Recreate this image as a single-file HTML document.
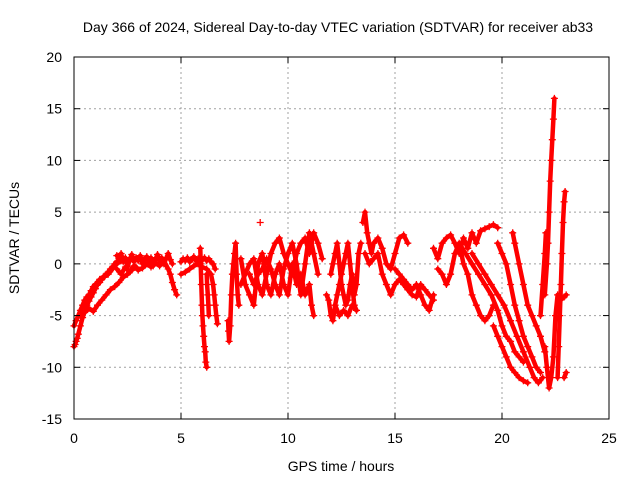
<!DOCTYPE html>
<html><head><meta charset="utf-8"><style>
body{margin:0;background:#fff;}
svg text{font-family:"Liberation Sans",sans-serif;fill:#000;}
</style></head><body>
<svg id="chart" width="640" height="480" viewBox="0 0 640 480" xmlns="http://www.w3.org/2000/svg">
<rect width="640" height="480" fill="#fff"/>
<text x="338" y="32" font-size="14" text-anchor="middle">Day 366 of 2024, Sidereal Day-to-day VTEC variation (SDTVAR) for receiver ab33</text>
<g id="grid"></g>
<g id="marks"></g>
<rect x="74" y="57" width="535" height="362" fill="none" stroke="#000" stroke-width="1"/>
<g id="ticks"></g>
<text x="341" y="471" font-size="14" text-anchor="middle">GPS time / hours</text>
<text x="0" y="0" font-size="14" text-anchor="middle" transform="translate(19,238) rotate(-90)">SDTVAR / TECUs</text>
</svg>
<script>
const xTicks=[0,5,10,15,20,25];
const yTicks=[-15,-10,-5,0,5,10,15,20];
const trackA=[[0,-8],[0.05,-7.8],[0.1,-7.5],[0.15,-7.2],[0.2,-6.8],[0.3,-6],[0.4,-5.2],[0.5,-4.6],[0.6,-4],[0.7,-3.6],[0.8,-3.2],[0.9,-2.8],[1.0,-2.4],[1.1,-2],[1.2,-1.8],[1.3,-1.5],[1.4,-1.3],[1.5,-1],[1.6,-0.8],[1.7,-0.5],[1.8,-0.3],[1.9,0],[2.0,0.2]];
const trackB=[[0,-6],[0.1,-5.5],[0.2,-5],[0.3,-4.5],[0.4,-4],[0.5,-3.5],[0.6,-3.2],[0.7,-3],[0.8,-2.6],[0.9,-2.2],[1.0,-2],[1.2,-1.5],[1.4,-1.2],[1.6,-1],[1.8,-0.5],[2.0,0],[2.2,0.3],[2.4,0.5]];
const trackC=[[0.3,-5],[0.5,-4.7],[0.7,-4.3],[0.9,-4.6],[1.1,-4],[1.3,-3.5],[1.5,-3],[1.7,-2.5],[1.9,-2.2],[2.1,-1.8],[2.3,-1.3],[2.5,-1],[2.7,-0.6],[2.9,-0.3]];
const trackD=[[2.0,0.8],[2.1,0.5],[2.2,1],[2.3,0.2],[2.4,0.6],[2.5,-0.3],[2.6,0.4],[2.7,0.9],[2.8,0.2],[2.9,0.6],[3.0,0.3],[3.1,0.8],[3.2,0],[3.3,0.5],[3.4,0.7],[3.5,0.2],[3.6,0.6],[3.7,-0.2],[3.8,0.4],[3.9,0.9],[4.0,0.3],[4.1,0.6],[4.2,0],[4.3,0.5],[4.4,1],[4.5,0.4],[4.6,0]];
const trackD2=[[2.0,-0.5],[2.2,-1],[2.4,-0.3],[2.6,-0.8],[2.8,-0.2],[3.0,-0.6],[3.2,-0.4],[3.4,0],[3.6,-0.3],[3.8,0.1],[4.0,-0.2],[4.2,0.3],[4.4,-0.5],[4.5,-1],[4.6,-1.8],[4.7,-2.5],[4.8,-3]];
const trackE=[[5.0,0.2],[5.1,0.5],[5.2,0.3],[5.3,0.6],[5.4,0.2],[5.5,0.4],[5.6,0.7],[5.7,0.3],[5.8,0.5],[5.9,0.2],[6.0,0.4],[6.1,0.6],[6.2,0.3],[6.3,0.5],[6.4,0.2],[6.5,0],[6.6,-0.5]];
const trackE2=[[5.0,-1],[5.2,-0.8],[5.4,-0.5],[5.6,-0.2],[5.8,0],[6.0,-0.3],[6.2,-0.5],[6.4,-1],[6.5,-2],[6.55,-3],[6.6,-4],[6.65,-5],[6.7,-5.8]];
const trackDip=[[5.9,1.5],[5.92,0],[5.95,-2],[5.98,-4],[6.0,-5],[6.03,-6],[6.06,-7],[6.1,-8],[6.13,-8.5],[6.16,-9.5],[6.2,-10]];
const trackDip2=[[6.2,-1],[6.22,-2],[6.25,-3],[6.28,-4],[6.3,-5]];
const trackF=[[7.2,-5.5],[7.22,-6.5],[7.25,-7.5],[7.3,-6],[7.35,-3],[7.4,-1],[7.45,0],[7.5,1],[7.55,2],[7.6,-1],[7.65,-3],[7.7,-4]];
const trackG1=[[7.8,-2],[8.0,-1],[8.2,0],[8.4,0.5],[8.6,-2],[8.8,-3],[9.0,-1],[9.2,1],[9.4,2],[9.6,2.5],[9.8,1],[10.0,0],[10.2,-1],[10.4,1],[10.6,2],[10.8,2.5],[11.0,1],[11.2,3],[11.4,2],[11.6,0.5]];
const trackG0=[[8.7,4]];
const trackG2=[[7.8,0.5],[8.0,-2],[8.2,-3],[8.4,-4],[8.6,0],[8.8,1],[9.0,-2],[9.2,-3],[9.4,-1],[9.6,0],[9.8,-2],[10.0,-3],[10.2,0],[10.4,-2],[10.6,-1],[10.8,-3],[11.0,-2],[11.1,-4],[11.2,-5]];
const trackG3=[[8.2,-1],[8.4,-2],[8.6,-1],[8.8,-0.5],[9.0,0.5],[9.2,-0.5],[9.4,-2],[9.6,-3],[9.8,-0.5],[10.0,1],[10.2,2],[10.4,0],[10.6,-3],[10.8,0],[11.0,3],[11.2,1],[11.4,-1]];
const trackH1=[[11.8,-3],[11.9,-3.5],[12.0,-5],[12.1,-5.5],[12.2,-4],[12.3,-3],[12.4,-2],[12.5,-1],[12.6,0],[12.7,1],[12.8,2],[12.9,0],[13.0,-2],[13.1,-4],[13.2,-4.5]];
const trackH2=[[12.0,-1],[12.1,0],[12.2,1],[12.3,2],[12.4,0],[12.5,-2],[12.6,-3],[12.7,-4],[12.8,-3.5],[12.9,-2],[13.0,-1],[13.1,-3],[13.2,-2],[13.3,1],[13.4,2]];
const trackH3=[[12.2,-4],[12.4,-5],[12.6,-4.5],[12.8,-5],[13.0,-4],[13.2,-4.5]];
const trackI1=[[13.5,4],[13.6,5],[13.7,3],[13.8,2],[13.9,1],[14.0,2],[14.2,2.5],[14.4,1.5],[14.6,0],[14.8,-0.5],[15.0,1],[15.2,2.5],[15.4,2.8],[15.6,2]];
const trackI2=[[13.6,1],[13.8,0],[14.0,0.5],[14.2,1],[14.4,-1],[14.6,-2],[14.8,-3],[15.0,-2],[15.2,-1.5],[15.4,-2],[15.6,-2.5],[15.8,-3],[16.0,-3.2],[16.2,-2],[16.4,-2.5],[16.6,-3],[16.8,-3.5]];
const trackI3=[[15.0,-0.5],[15.2,-1],[15.4,-1.5],[15.6,-2],[15.8,-2.5],[16.0,-2],[16.2,-3],[16.4,-4],[16.6,-4.5],[16.8,-3]];
const trackJ1=[[16.8,1.5],[17.0,0.5],[17.2,2],[17.4,2.5],[17.6,2.8],[17.8,2],[18.0,1],[18.2,2.5],[18.4,1.5],[18.6,3],[18.8,2],[19.0,3.2],[19.2,3.4],[19.4,3.6],[19.6,3.8],[19.8,3.5]];
const trackJ2=[[17.0,-0.5],[17.2,-1],[17.4,-2],[17.6,-1],[17.8,1],[18.0,2],[18.2,0],[18.4,-1],[18.6,-3],[18.8,-4],[19.0,-5],[19.2,-5.5],[19.4,-5],[19.6,-4]];
const trackK1=[[18.0,2],[18.3,1],[18.6,0],[18.9,-1],[19.2,-2],[19.5,-3],[19.8,-4.5],[20.0,-6],[20.2,-7],[20.4,-7.5],[20.6,-8.5],[20.8,-9],[21.0,-9.5]];
const trackK2=[[18.6,1],[18.9,0],[19.2,-1],[19.5,-2],[19.8,-3],[20.1,-4],[20.4,-5.5],[20.7,-7],[21.0,-8.5],[21.3,-10],[21.5,-11],[21.7,-11.5],[21.9,-11]];
const trackK3=[[19.8,2],[20.0,1],[20.2,0],[20.4,-2],[20.6,-4],[20.8,-5.5],[21.0,-7],[21.2,-8],[21.4,-9],[21.6,-10],[21.8,-10.5]];
const trackK4=[[20.5,3],[20.6,2],[20.8,0],[21.0,-2],[21.2,-4],[21.4,-5],[21.6,-6],[21.8,-7],[22.0,-8.5]];
const trackK5=[[19.6,-6],[19.8,-7],[20.0,-8],[20.2,-9],[20.4,-10],[20.6,-10.5],[20.8,-11],[21.0,-11.3],[21.2,-11.5]];
const trackL0=[[21.8,-5],[21.9,-2],[22.0,1],[22.05,3]];
const trackL1=[[22.0,-3],[22.1,0],[22.15,2],[22.2,5],[22.25,8],[22.3,10],[22.35,12],[22.4,14],[22.45,16]];
const trackL2=[[22.0,-8],[22.1,-10],[22.2,-12],[22.3,-11],[22.4,-9],[22.5,-5],[22.6,-3],[22.7,-3.2],[22.8,-3.4],[22.9,-3.2],[23.0,-3]];
const trackL3=[[22.6,-11],[22.65,-8],[22.7,-5],[22.75,-2],[22.8,1],[22.85,4],[22.9,6],[22.95,7]];
const trackL4=[[22.9,-11],[23.0,-10.5]];
const allTracks=[trackA,trackB,trackC,trackD,trackD2,trackE,trackE2,trackDip,trackDip2,trackF,trackG0,trackG1,trackG2,trackG3,trackH1,trackH2,trackH3,trackI1,trackI2,trackI3,trackJ1,trackJ2,trackK1,trackK2,trackK3,trackK4,trackK5,trackL0,trackL1,trackL2,trackL3,trackL4];

const NS="http://www.w3.org/2000/svg";
const X0=74,X1=609,Y0=419,Y1=57;
function xs(t){return X0+(t-0)/(25-0)*(X1-X0);}
function ys(v){return Y0-(v+15)/(35)*(Y0-Y1);}
const grid=document.getElementById('grid'),ticks=document.getElementById('ticks'),marks=document.getElementById('marks');
function mk(tag,attrs,parent){const e=document.createElementNS(NS,tag);for(const k in attrs)e.setAttribute(k,attrs[k]);parent.appendChild(e);return e;}
xTicks.forEach(t=>{
  const x=xs(t);
  if(t>0&&t<25){const g=mk('line',{x1:x,x2:x,y1:Y1,y2:Y0,stroke:'#a0a0a0','stroke-dasharray':'2,3'},grid);
  
  }
  mk('line',{x1:x,x2:x,y1:Y0,y2:Y0-6,stroke:'#000'},ticks);
  mk('line',{x1:x,x2:x,y1:Y1,y2:Y1+6,stroke:'#000'},ticks);
  const l=mk('text',{x:x,y:Y0+24,'font-size':14,'text-anchor':'middle'},ticks);l.textContent=t;
  
  
});
yTicks.forEach(v=>{
  const y=ys(v);
  if(v>-15&&v<20){const g=mk('line',{x1:X0,x2:X1,y1:y,y2:y,stroke:'#a0a0a0','stroke-dasharray':'2,3'},grid);
  
  }
  mk('line',{x1:X0,x2:X0+6,y1:y,y2:y,stroke:'#000'},ticks);
  mk('line',{x1:X1,x2:X1-6,y1:y,y2:y,stroke:'#000'},ticks);
  const l=mk('text',{x:X0-12,y:y+5,'font-size':14,'text-anchor':'end'},ticks);l.textContent=v;
  
  
});
allTracks.forEach(tr=>{
  if(tr.length<2)return;
  const pts=tr.map(p=>xs(p[0]).toFixed(1)+','+ys(p[1]).toFixed(1)).join(' ');
  const pl=mk('polyline',{points:pts,stroke:'#ff0000','stroke-width':4.5,fill:'none','stroke-linejoin':'round','stroke-linecap':'round'},marks);
  
  
});
let d='';
allTracks.forEach(tr=>tr.forEach(p=>{const x=xs(p[0]),y=ys(p[1]);d+=`M${(x-3.5).toFixed(1)} ${y.toFixed(1)}h7M${x.toFixed(1)} ${(y-3.5).toFixed(1)}v7`;}));
const path=mk('path',{d:d,stroke:'#ff0000','stroke-width':1.3,fill:'none'},marks);


</script>
</body></html>
